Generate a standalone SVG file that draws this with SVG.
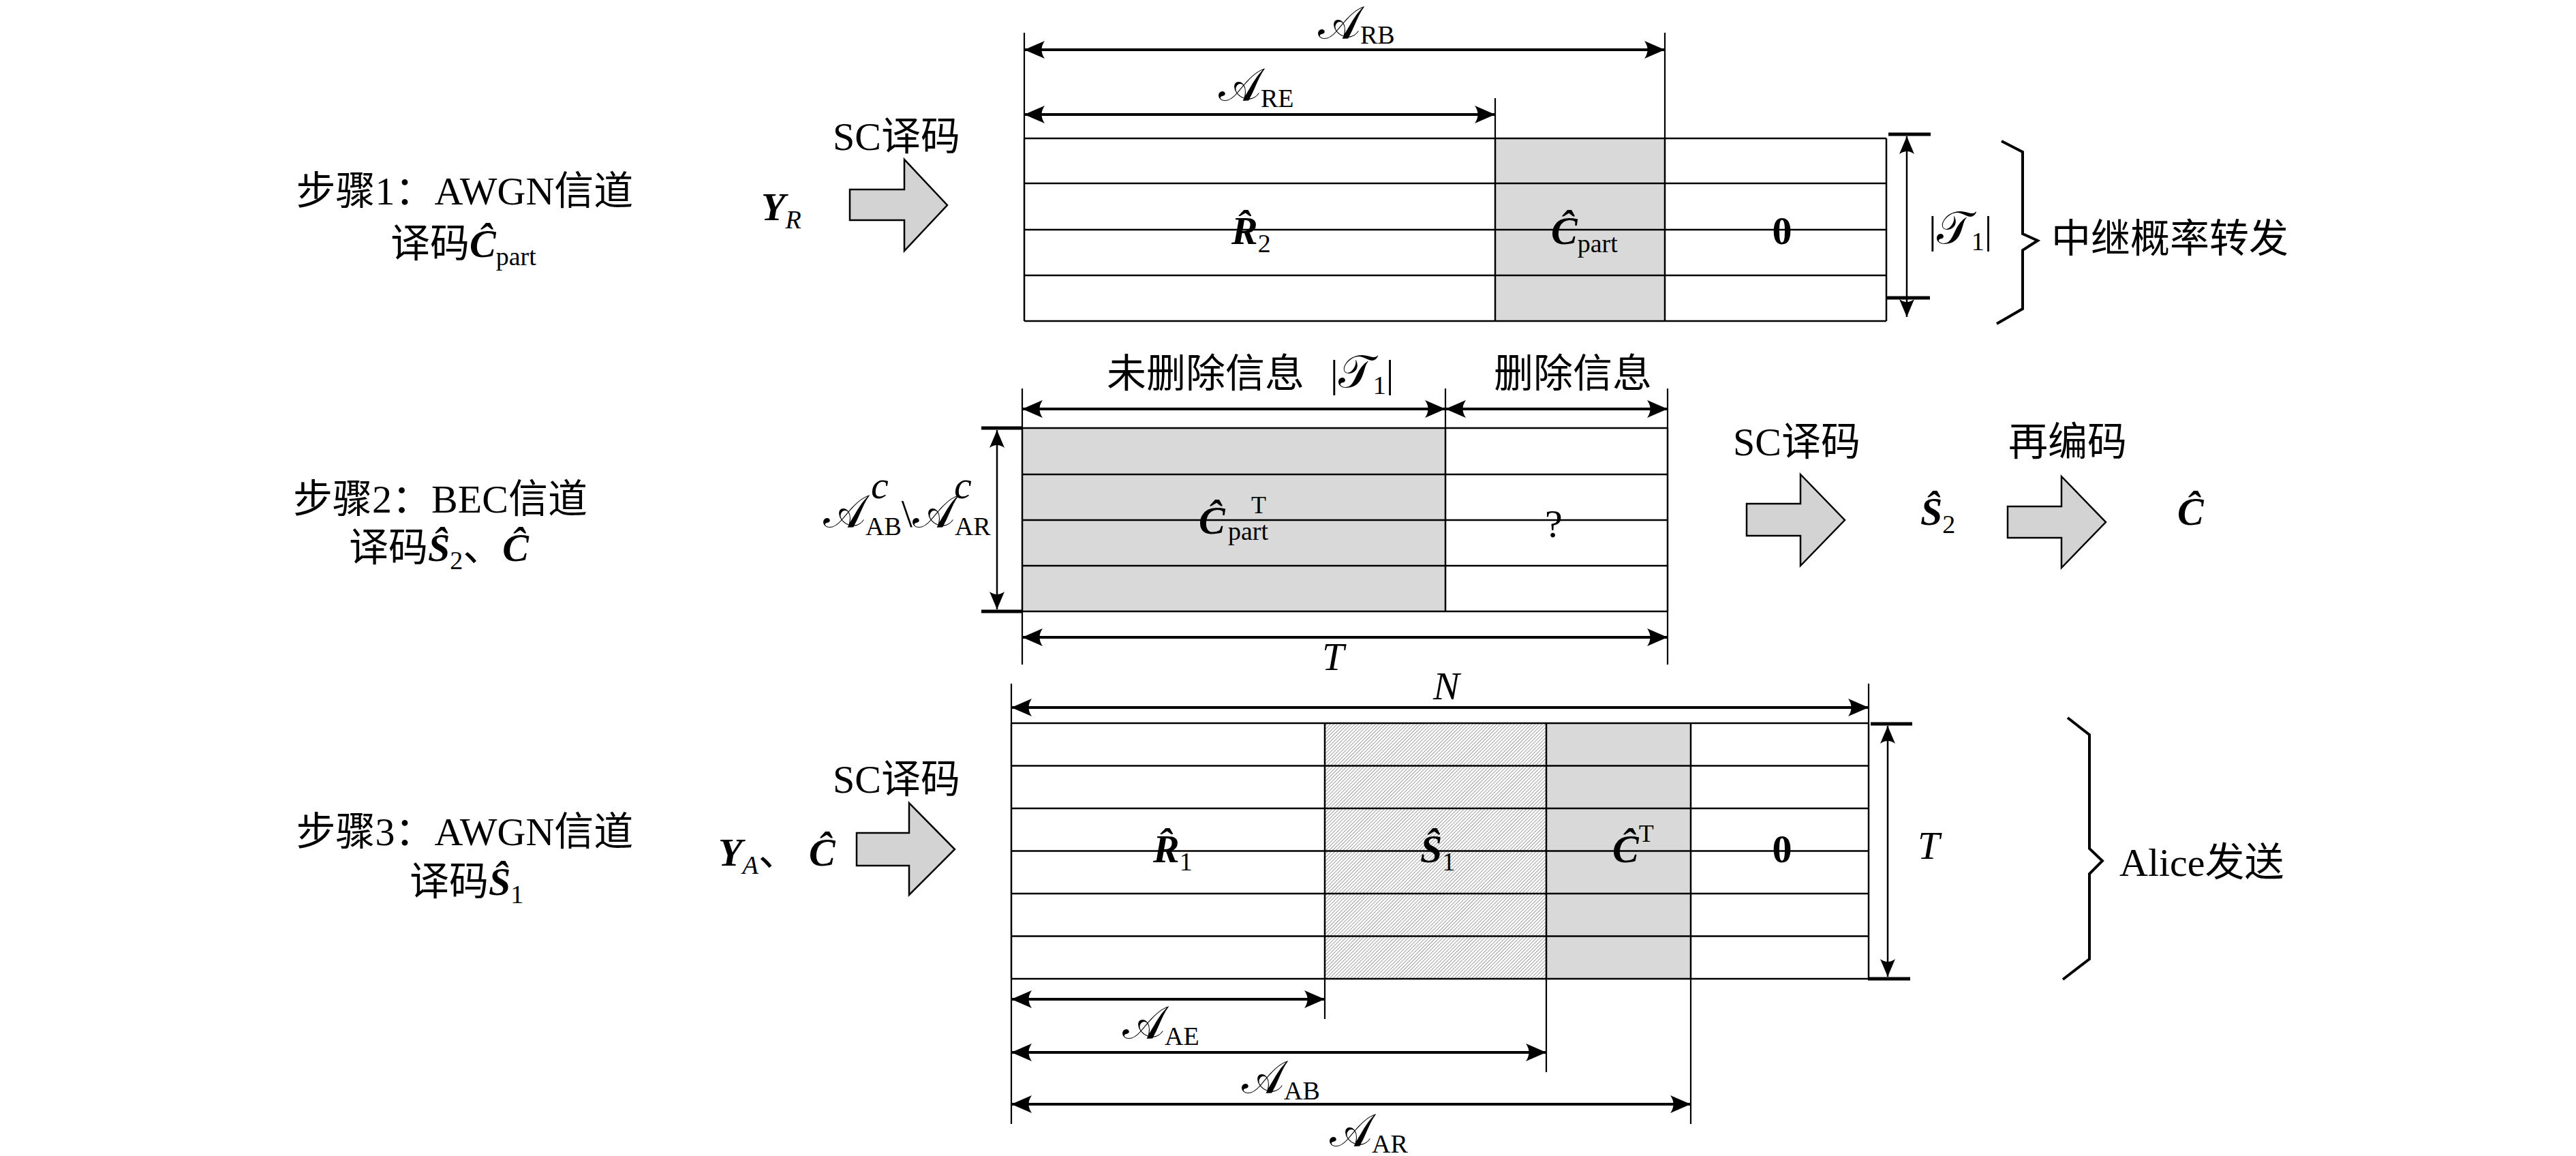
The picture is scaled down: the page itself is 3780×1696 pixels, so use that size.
<svg xmlns="http://www.w3.org/2000/svg" width="3780" height="1696" viewBox="0 0 3780 1696">
<style>
.t{font-family:"Liberation Serif","Noto Sans CJK SC",serif;font-size:58px;fill:#000}
.bi{font-family:"Liberation Serif",serif;font-weight:bold;font-style:italic}
.it{font-family:"Liberation Serif",serif;font-style:italic}
.up{font-family:"Liberation Serif",serif;font-style:normal;font-weight:normal}
.cal{font-family:"DejaVu Serif","DejaVu Sans","Liberation Serif",serif;font-style:normal;font-size:66px}
.sub{font-size:38px}
.grid{stroke:#000;stroke-width:2.5;fill:none}
.dim{stroke:#000;stroke-width:4;fill:none;marker-start:url(#ah);marker-end:url(#ah)}
.vdim{stroke:#000;stroke-width:2.5;fill:none;marker-start:url(#ah2);marker-end:url(#ah2)}
.tick{stroke:#000;stroke-width:2.2;fill:none}
.cap{stroke:#000;stroke-width:5;fill:none}
.blk{fill:#d3d3d3;stroke:#000;stroke-width:2.5;stroke-linejoin:miter}
.brace{fill:none;stroke:#000;stroke-width:4}
.grey{fill:#d9d9d9}
</style>
<defs>
<marker id="ah" viewBox="-32 -15 34 30" refX="0" refY="0" markerWidth="34" markerHeight="30" markerUnits="userSpaceOnUse" orient="auto-start-reverse">
<path d="M0,0 L-30,-13 Q-21,0 -30,13 Z" fill="#000"/>
</marker>
<marker id="ah2" viewBox="-28 -13 30 26" refX="0" refY="0" markerWidth="30" markerHeight="26" markerUnits="userSpaceOnUse" orient="auto-start-reverse">
<path d="M0,0 L-26,-11 Q-18,0 -26,11 Z" fill="#000"/>
</marker>
<pattern id="hatch" width="3.6" height="3.6" patternUnits="userSpaceOnUse" patternTransform="rotate(45)">
<rect width="3.6" height="3.6" fill="#fff"/>
<line x1="0" y1="0" x2="0" y2="3.6" stroke="#707070" stroke-width="1.3"/>
</pattern>
</defs>
<rect width="3780" height="1696" fill="#fff"/>

<!-- Step labels -->
<g id="step1-label">
<text class="t" x="682" y="300" text-anchor="middle">步骤1：AWGN信道</text>
<text class="t" x="573" y="377">译码<tspan class="bi">Ĉ</tspan><tspan class="up sub" dy="12">part</tspan></text>
</g>
<g id="step2-label">
<text class="t" x="646" y="752" text-anchor="middle">步骤2：BEC信道</text>
<text class="t" x="512" y="823">译码<tspan class="bi">Ŝ</tspan><tspan class="up sub" dy="12">2</tspan><tspan dy="-12">、</tspan><tspan class="bi">Ĉ</tspan></text>
</g>
<g id="step3-label">
<text class="t" x="682" y="1240" text-anchor="middle">步骤3：AWGN信道</text>
<text class="t" x="601" y="1313">译码<tspan class="bi">Ŝ</tspan><tspan class="up sub" dy="12">1</tspan></text>
</g>

<!-- Inputs -->
<g id="input-YR">
<text class="t" x="1117" y="323"><tspan class="bi">Y</tspan><tspan class="it sub" dy="12">R</tspan></text>
</g>
<g id="input-YA-C">
<text class="t" x="1054" y="1270"><tspan class="bi">Y</tspan><tspan class="it sub" dy="12">A</tspan><tspan dy="-12">、</tspan><tspan class="bi" x="1187">Ĉ</tspan></text>
</g>

<!-- Block arrows -->
<g id="sc-decode-1">
<text class="t" x="1222" y="220">SC译码</text>
<polygon class="blk" points="1247,278 1327,278 1327,234 1390,301 1327,368 1327,323 1247,323"/>
</g>
<g id="sc-decode-2">
<text class="t" x="2543" y="668">SC译码</text>
<polygon class="blk" points="2563,739 2642,739 2642,696 2707,763 2642,830 2642,786 2563,786"/>
</g>
<g id="s2-hat">
<text class="t" x="2818" y="770"><tspan class="bi">Ŝ</tspan><tspan class="up sub" dy="12">2</tspan></text>
</g>
<g id="re-encode">
<text class="t" x="2947" y="668">再编码</text>
<polygon class="blk" points="2946,743 3025,743 3025,699 3090,766 3025,833 3025,789 2946,789"/>
</g>
<g id="c-hat-out">
<text class="t" x="3195" y="770"><tspan class="bi">Ĉ</tspan></text>
</g>
<g id="sc-decode-3">
<text class="t" x="1222" y="1163">SC译码</text>
<polygon class="blk" points="1257,1222 1334,1222 1334,1178 1401,1246 1334,1313 1334,1270 1257,1270"/>
</g>

<!-- Table 1 -->
<g id="table1">
<rect class="grey" x="2194" y="203" width="249" height="268"/>
<path class="grid" d="M1503,203H2768M1503,269H2768M1503,337H2768M1503,404H2768M1503,471H2768M1503,203V471M2194,203V471M2443,203V471M2768,203V471"/>
<text class="t" x="1807" y="358"><tspan class="bi">R̂</tspan><tspan class="up sub" dy="12">2</tspan></text>
<text class="t" x="2276" y="358"><tspan class="bi">Ĉ</tspan><tspan class="up sub" dy="12">part</tspan></text>
<text class="t" x="2615" y="358" text-anchor="middle" font-weight="bold">0</text>
</g>
<g id="table1-dims">
<path class="tick" d="M1503,48V203M2443,48V203M2194,144V203"/>
<line class="dim" x1="1503" y1="73" x2="2443" y2="73"/>
<line class="dim" x1="1503" y1="168" x2="2194" y2="168"/>
<text class="t it" x="1934" y="56"><tspan class="cal" font-size="60">𝒜</tspan><tspan class="up sub" dy="8">RB</tspan></text>
<text class="t it" x="1788" y="147"><tspan class="cal">𝒜</tspan><tspan class="up sub" dy="10">RE</tspan></text>
<line class="vdim" x1="2798" y1="200" x2="2798" y2="465"/>
<path class="cap" d="M2771,197H2833M2769,437H2832"/>
<text class="t" x="2830" y="357"><tspan class="up">|</tspan><tspan class="cal">𝒯</tspan><tspan class="up sub" dy="10">1</tspan><tspan class="up" dy="-10">|</tspan></text>
</g>
<g id="relay-brace">
<polyline class="brace" points="2937,207 2968,223 2968,343 2990,353 2968,367 2968,453 2930,475"/>
<text class="t" x="3010" y="370">中继概率转发</text>
</g>

<!-- Table 2 -->
<g id="table2">
<rect class="grey" x="1500" y="628" width="621" height="269"/>
<path class="grid" d="M1500,628H2447M1500,696H2447M1500,763H2447M1500,830H2447M1500,897H2447M1500,628V897M2121,628V897M2447,628V897"/>
<text class="t" x="1759" y="783"><tspan class="bi">Ĉ</tspan><tspan class="up" font-size="36" x="1836" y="753">T</tspan><tspan class="up sub" x="1802" y="792">part</tspan></text>
<text class="t up" x="2267" y="788" font-size="52">?</text>
</g>
<g id="table2-dims">
<path class="tick" d="M1500,570V628M2121,570V628M2447,570V628M1500,897V975M2447,897V975"/>
<line class="dim" x1="1500" y1="600" x2="2121" y2="600"/>
<line class="dim" x1="2121" y1="600" x2="2447" y2="600"/>
<text class="t" x="1624" y="568">未删除信息</text>
<text class="t" x="1952" y="568"><tspan class="up">|</tspan><tspan class="cal">𝒯</tspan><tspan class="up sub" dy="10">1</tspan><tspan class="up" dy="-10">|</tspan></text>
<text class="t" x="2192" y="568">删除信息</text>
<line class="vdim" x1="1463" y1="631" x2="1463" y2="894"/>
<path class="cap" d="M1440,628H1500M1440,897H1500"/>
<text class="t" x="1208" y="773"><tspan class="cal">𝒜</tspan><tspan class="up sub" dy="12">AB</tspan><tspan class="up" dy="-12">\</tspan><tspan class="cal">𝒜</tspan><tspan class="up sub" dy="12">AR</tspan></text>
<text class="t it" font-size="36" x="1278" y="731">c</text>
<text class="t it" font-size="36" x="1400" y="731">c</text>
<line class="dim" x1="1500" y1="935" x2="2447" y2="935"/>
<text class="t it" x="1940" y="983">T</text>
</g>

<!-- Table 3 -->
<g id="table3">
<rect x="1944" y="1061" width="325" height="375" fill="url(#hatch)"/>
<rect class="grey" x="2269" y="1061" width="212" height="375"/>
<path class="grid" d="M1484,1061H2742M1484,1123.5H2742M1484,1186H2742M1484,1248.5H2742M1484,1311H2742M1484,1373.5H2742M1484,1436H2742M1484,1061V1436M1944,1061V1436M2269,1061V1436M2481,1061V1436M2742,1061V1436"/>
<text class="t" x="1692" y="1265"><tspan class="bi">R̂</tspan><tspan class="up sub" dy="12">1</tspan></text>
<text class="t" x="2084" y="1265"><tspan class="bi">Ŝ</tspan><tspan class="up sub" dy="12">1</tspan></text>
<text class="t" x="2366" y="1265"><tspan class="bi">Ĉ</tspan><tspan class="up" font-size="36" dy="-30">T</tspan></text>
<text class="t" x="2615" y="1265" text-anchor="middle" font-weight="bold">0</text>
</g>
<g id="table3-dims">
<path class="tick" d="M1484,1003V1061M2742,1003V1061M1484,1436V1649M1944,1436V1495M2269,1436V1573M2481,1436V1649"/>
<line class="dim" x1="1484" y1="1038" x2="2742" y2="1038"/>
<text class="t it" x="2103" y="1026">N</text>
<line class="vdim" x1="2770" y1="1065" x2="2770" y2="1433"/>
<path class="cap" d="M2745,1062H2806M2741,1436H2803"/>
<text class="t it" x="2814" y="1260">T</text>
<line class="dim" x1="1484" y1="1466" x2="1944" y2="1466"/>
<line class="dim" x1="1484" y1="1544" x2="2269" y2="1544"/>
<line class="dim" x1="1484" y1="1620" x2="2481" y2="1620"/>
<text class="t" x="1647" y="1523"><tspan class="cal">𝒜</tspan><tspan class="up sub" dy="10">AE</tspan></text>
<text class="t" x="1822" y="1603"><tspan class="cal">𝒜</tspan><tspan class="up sub" dy="10">AB</tspan></text>
<text class="t" x="1951" y="1681"><tspan class="cal">𝒜</tspan><tspan class="up sub" dy="10">AR</tspan></text>
</g>
<g id="alice-brace">
<polyline class="brace" points="3034,1053 3066,1078 3066,1245 3085,1263 3066,1282 3066,1407 3027,1437"/>
<text class="t" x="3110" y="1285">Alice发送</text>
</g>
</svg>
